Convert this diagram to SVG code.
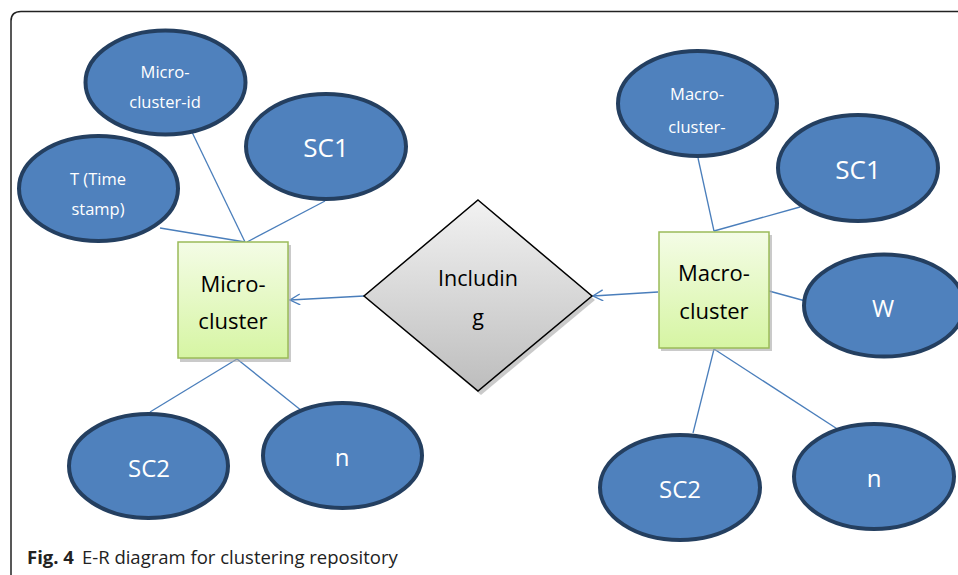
<svg xmlns="http://www.w3.org/2000/svg" width="958" height="575" viewBox="0 0 958 575">
<defs>
<style>
.attr ellipse{fill:#4F81BD;stroke:#243F60;stroke-width:4}
.attr text{fill:#fff;font-family:"Open Sans","Noto Sans",sans-serif;text-anchor:middle}
.ent rect.box{fill:url(#gGreen);stroke:#9BBB59;stroke-width:1.5}
.ent rect.sh{fill:#a6a6a6;opacity:0.6}
.ent text{fill:#000;font-family:"Open Sans","Noto Sans",sans-serif;font-size:22px;text-anchor:middle}
.conn line{stroke:#4A7EBB;stroke-width:1.3;fill:none}
</style>
<linearGradient id="gGreen" x1="0" y1="0" x2="0" y2="1">
<stop offset="0" stop-color="#F4FCE6"/>
<stop offset="1" stop-color="#D6F5A3"/>
</linearGradient>
<linearGradient id="gGray" x1="0" y1="0" x2="0" y2="1">
<stop offset="0" stop-color="#F2F2F2"/>
<stop offset="1" stop-color="#BDBDBD"/>
</linearGradient>
<marker id="arr" viewBox="0 0 12 12" refX="11" refY="6" markerWidth="12" markerHeight="12" markerUnits="userSpaceOnUse" orient="auto">
<path d="M1,0.5 L11,6 L1,11.5" fill="none" stroke="#4A7EBB" stroke-width="1.3"/>
</marker>
</defs>
<rect width="958" height="575" fill="#fff"/>
<path d="M11,585 L11,21 Q11,11.5 21,11.5 L970,11.5" fill="none" stroke="#222" stroke-width="1.5"/>

<g class="conn" id="connectors">
<line x1="160" y1="228" x2="245" y2="242"/>
<line x1="190" y1="128" x2="245" y2="242"/>
<line x1="325" y1="201" x2="247" y2="242"/>
<line x1="237" y1="359" x2="150" y2="412"/>
<line x1="237" y1="359" x2="302" y2="411"/>
<line x1="698" y1="158" x2="714" y2="231"/>
<line x1="800" y1="207" x2="714" y2="231"/>
<line x1="769" y1="291" x2="820" y2="305"/>
<line x1="714" y1="349" x2="693" y2="433"/>
<line x1="714" y1="349" x2="842" y2="432"/>
<line x1="364" y1="296" x2="290" y2="300" marker-end="url(#arr)"/>
<line x1="658" y1="292" x2="593" y2="296" marker-end="url(#arr)"/>
</g>

<g id="micro-cluster" class="ent">
<rect class="sh" x="180" y="245" width="111" height="117"/>
<rect class="box" x="178" y="242" width="110" height="116"/>
<text x="233" y="292">Micro-</text>
<text x="233" y="329">cluster</text>
</g>

<g id="macro-cluster" class="ent">
<rect class="sh" x="661" y="235" width="111" height="116"/>
<rect class="box" x="659" y="232" width="110" height="116"/>
<text x="714" y="281">Macro-</text>
<text x="714" y="319">cluster</text>
</g>

<g id="including">
<path d="M481,204 L595,300 L481,395 L368,300 Z" fill="#a6a6a6" opacity="0.6"/>
<path d="M478,200 L592,296 L478,391 L364,296 Z" fill="url(#gGray)" stroke="#000" stroke-width="1.5"/>
<text x="478" y="286" font-family="Open Sans, Noto Sans, sans-serif" font-size="21.5" text-anchor="middle" fill="#000">Includin</text>
<text x="478" y="325" font-family="Open Sans, Noto Sans, sans-serif" font-size="21.5" text-anchor="middle" fill="#000">g</text>
</g>

<g id="micro-cluster-id" class="attr">
<ellipse cx="165.5" cy="82.5" rx="80" ry="52"/>
<text x="165" y="78" font-size="16.5">Micro-</text>
<text x="165" y="108" font-size="16.5">cluster-id</text>
</g>
<g id="micro-sc1" class="attr">
<ellipse cx="326" cy="146.5" rx="80" ry="52.5"/>
<text x="326" y="157" font-size="26">SC1</text>
</g>
<g id="time-stamp" class="attr">
<ellipse cx="98.5" cy="188.5" rx="79.5" ry="52.5"/>
<text x="98" y="185" font-size="16.5">T (Time</text>
<text x="98" y="215" font-size="16.5">stamp)</text>
</g>
<g id="micro-sc2" class="attr">
<ellipse cx="148.5" cy="466" rx="79.5" ry="52"/>
<text x="149" y="477" font-size="24">SC2</text>
</g>
<g id="micro-n" class="attr">
<ellipse cx="342.5" cy="455.5" rx="79.5" ry="52.5"/>
<text x="342" y="466" font-size="24">n</text>
</g>
<g id="macro-cluster-id" class="attr">
<ellipse cx="697.5" cy="103.5" rx="79.5" ry="52.5"/>
<text x="697" y="100" font-size="16.5">Macro-</text>
<text x="697" y="133" font-size="16.5">cluster-</text>
</g>
<g id="macro-sc1" class="attr">
<ellipse cx="858" cy="168" rx="80" ry="53"/>
<text x="858" y="179" font-size="26">SC1</text>
</g>
<g id="macro-w" class="attr">
<ellipse cx="884" cy="305.5" rx="80" ry="51"/>
<text x="883" y="317" font-size="24">W</text>
</g>
<g id="macro-sc2" class="attr">
<ellipse cx="680" cy="487.5" rx="80" ry="52.5"/>
<text x="680" y="498" font-size="24">SC2</text>
</g>
<g id="macro-n" class="attr">
<ellipse cx="874" cy="476.5" rx="80" ry="52.5"/>
<text x="874" y="487" font-size="24">n</text>
</g>

<text x="27" y="564" font-family="Open Sans, Noto Sans, sans-serif" font-size="18.5" fill="#222"><tspan font-weight="bold">Fig. 4</tspan><tspan dx="8">E-R diagram for clustering repository</tspan></text>
</svg>
